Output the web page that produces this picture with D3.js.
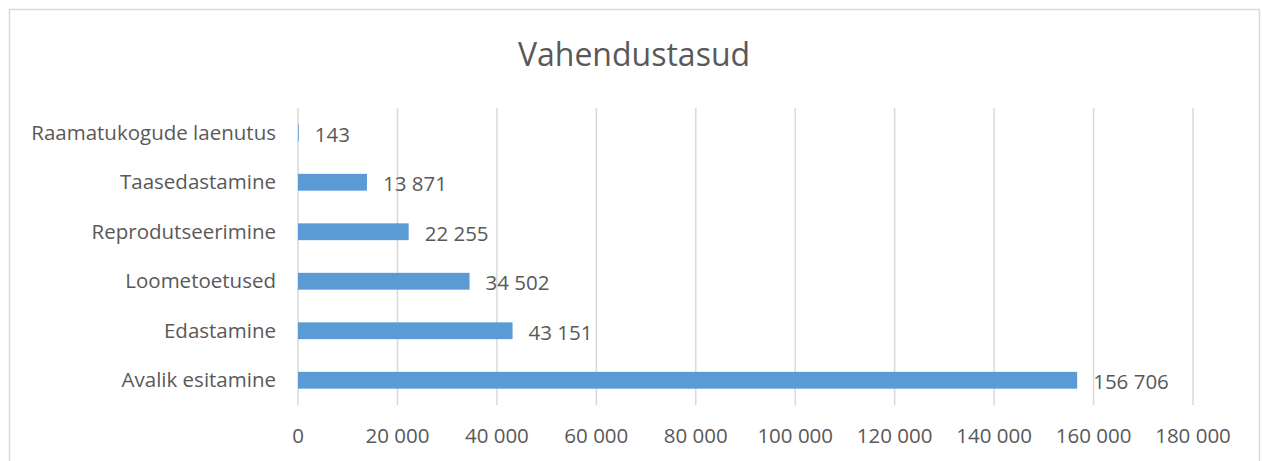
<!DOCTYPE html>
<html>
<head>
<meta charset="utf-8">
<script src="https://cdn.jsdelivr.net/npm/d3@7"></script>
<style>
  body { margin: 0; background: #fff; }
  svg text { font-family: "Open Sans", "Noto Sans", sans-serif; fill: #595959; }
</style>
</head>
<body>
<div id="chart"></div>
<script>
// categories top to bottom
const categories = ['Raamatukogude laenutus', 'Taasedastamine', 'Reprodutseerimine', 'Loometoetused', 'Edastamine', 'Avalik esitamine'];
const values = [143, 13871, 22255, 34502, 43151, 156706];
const ticks = [0, 20000, 40000, 60000, 80000, 100000, 120000, 140000, 160000, 180000];

const W = 1262, H = 461;
const svg = d3.select('#chart').append('svg').attr('width', W).attr('height', H);

// outer chart border (bottom is cut off in the picture)
svg.append('rect')
    .attr('x', 9.5).attr('y', 9.5)
    .attr('width', 1250).attr('height', 470)
    .attr('fill', 'none').attr('stroke', '#d9d9d9').attr('stroke-width', 1.5);

svg.append('text')
    .attr('x', 634).attr('y', 66)
    .attr('text-anchor', 'middle')
    .style('font-size', '32px')
    .text('Vahendustasud');

const x = d3.scaleLinear().domain([0, 180000]).range([298, 1193]);
const y = d3.scaleBand().domain(categories).range([108, 405]).paddingInner(0.66).paddingOuter(0.33);

const fmt = v => d3.format(',')(v).replace(/,/g, ' ');

// gridlines
svg.append('g').selectAll('line').data(ticks).join('line')
    .attr('x1', d => x(d)).attr('x2', d => x(d))
    .attr('y1', 108).attr('y2', 405)
    .attr('stroke', '#d9d9d9').attr('stroke-width', 1.5);

// tick labels
svg.append('g').selectAll('text').data(ticks).join('text')
    .attr('x', d => x(d)).attr('y', 443)
    .attr('text-anchor', 'middle')
    .style('font-size', '20.5px')
    .text(fmt);

// bars
svg.append('g').selectAll('rect').data(values).join('rect')
    .attr('x', x(0))
    .attr('y', (d, i) => y(categories[i]))
    .attr('width', d => x(d) - x(0))
    .attr('height', y.bandwidth())
    .attr('fill', '#5b9bd5');

// category labels
svg.append('g').selectAll('text').data(categories).join('text')
    .attr('x', 276)
    .attr('y', d => y(d) + y.bandwidth() / 2)
    .attr('dy', '0.35em')
    .attr('text-anchor', 'end')
    .style('font-size', '20.5px')
    .text(d => d);

// value labels
svg.append('g').selectAll('text').data(values).join('text')
    .attr('x', d => x(d) + 16)
    .attr('y', (d, i) => y(categories[i]) + y.bandwidth() / 2 + 2)
    .attr('dy', '0.35em')
    .style('font-size', '20.5px')
    .text(fmt);
</script>
</body>
</html>
